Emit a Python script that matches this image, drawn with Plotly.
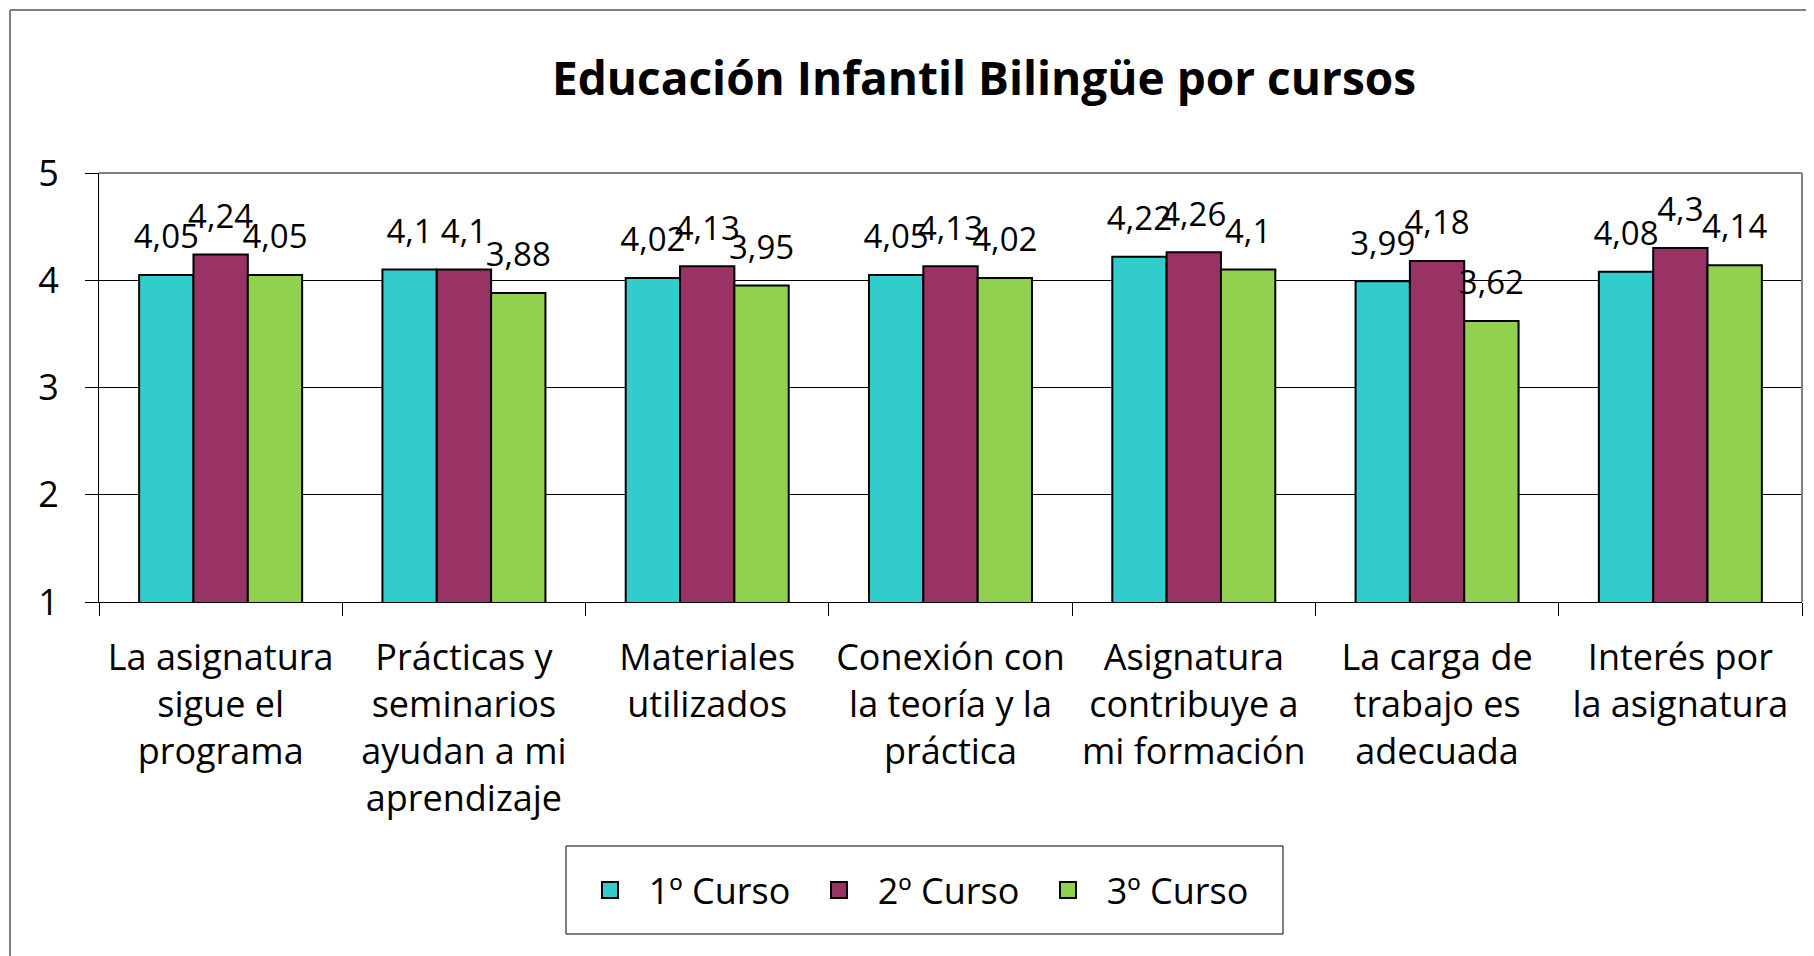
import plotly.graph_objects as go

categories = [
    "La asignatura<br>sigue el<br>programa",
    "Prácticas y<br>seminarios<br>ayudan a mi<br>aprendizaje",
    "Materiales<br>utilizados",
    "Conexión con<br>la teoría y la<br>práctica",
    "Asignatura<br>contribuye a<br>mi formación",
    "La carga de<br>trabajo es<br>adecuada",
    "Interés por<br>la asignatura",
]
series_names = ["1º Curso", "2º Curso", "3º Curso"]
curso1 = [4.05, 4.10, 4.02, 4.05, 4.22, 3.99, 4.08]
curso2 = [4.24, 4.10, 4.13, 4.13, 4.26, 4.18, 4.30]
curso3 = [4.05, 3.88, 3.95, 4.02, 4.10, 3.62, 4.14]
colors = ["#33CCCC", "#993366", "#92D050"]

FONT = "Open Sans, Comic Sans MS, sans-serif"

def fmt(v):
    s = ("%.2f" % v).rstrip("0").rstrip(".")
    return s.replace(".", ",")

# page body has an 8px margin: figure sized to fill the 1814x956 window
OFF = 8
W, H = 1814 - OFF, 956 - OFF
L, T = 99 - OFF, 173 - OFF
R = W - (1802 - OFF)
B = H - (602 - OFF)
pw, ph = W - L - R, H - T - B

def px(xw):
    return (xw - OFF - L) / pw

def py(yw):
    return ((602 - OFF) - (yw - OFF)) / ph

fig = go.Figure()
groups = ["g1", "g2", "g3"]
for name, vals, col, g in zip(series_names, [curso1, curso2, curso3], colors, groups):
    fig.add_trace(go.Bar(
        x=categories, y=vals, name=name, showlegend=False,
        offsetgroup=g, alignmentgroup="a",
        marker=dict(color=col, line=dict(color="black", width=2)),
    ))
# value labels, aligned with the bars
for name, vals, g in zip(series_names, [curso1, curso2, curso3], groups):
    fig.add_trace(go.Scatter(
        x=categories, y=vals, name=name, showlegend=False,
        offsetgroup=g, alignmentgroup="a",
        mode="markers+text", text=[fmt(v) for v in vals],
        textposition="top center", cliponaxis=False,
        marker=dict(size=28, color="rgba(0,0,0,0)"),
        textfont=dict(family=FONT, size=33, color="black"),
        hoverinfo="skip",
    ))
# legend entries (square swatches)
for name, col in zip(series_names, colors):
    fig.add_trace(go.Scatter(
        x=[None], y=[None], mode="markers", name="\u00a0\u00a0" + name,
        marker=dict(symbol="square", size=22, color=col,
                    line=dict(color="black", width=2)),
    ))

fig.update_layout(
    width=W, height=H,
    margin=dict(l=L, r=R, t=T, b=B, autoexpand=False),
    paper_bgcolor="white", plot_bgcolor="white",
    barmode="group", bargap=0.33, bargroupgap=0,
    scattermode="group", scattergap=0.33,
    font=dict(family=FONT, color="black"),
    title=dict(text="<b>Educación Infantil Bilingüe por cursos</b>",
               x=(984 - OFF) / W, xanchor="center", xref="container",
               y=1 - (79 - OFF) / H, yanchor="middle", yref="container",
               font=dict(family=FONT, size=46, color="black")),
    showlegend=True,
    legend=dict(orientation="h", x=px(590), xanchor="left", xref="paper",
                y=py(890), yanchor="middle", yref="paper",
                borderwidth=0, bgcolor="rgba(0,0,0,0)",
                font=dict(family=FONT, size=36, color="black"),
                entrywidth=184, entrywidthmode="pixels",
                itemsizing="trace"),
    xaxis=dict(type="category", showline=True, linecolor="black", linewidth=1,
               ticks="outside", tickson="boundaries", ticklen=13,
               tickcolor="black", showgrid=False, ticklabelstandoff=24,
               tickfont=dict(family=FONT, size=36, color="black")),
    yaxis=dict(range=[1, 5], dtick=1, tick0=1, showline=True, linecolor="black",
               linewidth=1, ticks="outside", ticklen=13, tickcolor="black",
               showgrid=True, gridcolor="black", gridwidth=1, zeroline=False,
               ticklabelstandoff=19,
               tickfont=dict(family=FONT, size=36, color="black")),
)

# plot area top/right border (gray)
fig.add_shape(type="line", xref="paper", yref="paper", x0=0, x1=1, y0=1, y1=1,
              line=dict(color="#808080", width=2))
fig.add_shape(type="line", xref="paper", yref="paper", x0=1, x1=1, y0=0, y1=1,
              line=dict(color="#808080", width=2))
# outer chart frame (left and top)
fig.add_shape(type="line", xref="paper", yref="paper", x0=px(10), x1=px(10),
              y0=py(970), y1=py(10), line=dict(color="#808080", width=2))
fig.add_shape(type="line", xref="paper", yref="paper", x0=px(10), x1=px(1830),
              y0=py(10), y1=py(10), line=dict(color="#808080", width=2))
# legend frame
fig.add_shape(type="rect", xref="paper", yref="paper", x0=px(566), x1=px(1283),
              y0=py(934), y1=py(846), line=dict(color="black", width=1),
              layer="below")

fig.write_html("out.html")
